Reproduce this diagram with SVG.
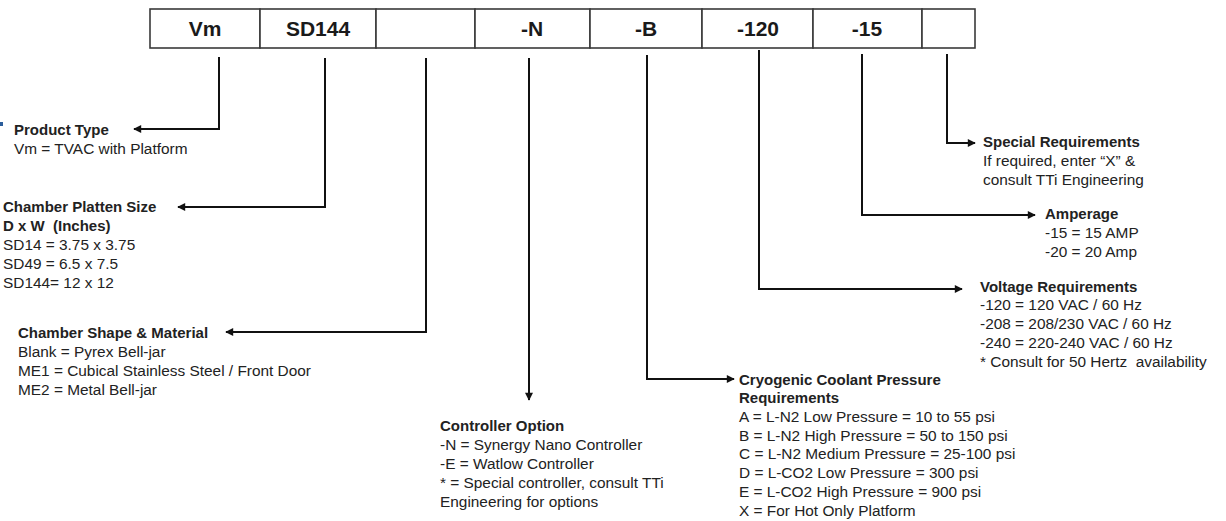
<svg xmlns="http://www.w3.org/2000/svg" width="1226" height="521" viewBox="0 0 1226 521">
<style>
.cell{fill:#fff;stroke:#3a3a3a;stroke-width:1.6}
.code{font-family:"Liberation Sans",Arial,sans-serif;font-weight:bold;font-size:21px;fill:#1a1a1a;text-anchor:middle}
.t{font-family:"Liberation Sans",Arial,sans-serif;font-size:15.4px;fill:#222}
.b{font-weight:bold;font-size:15px}
.wire{fill:none;stroke:#111;stroke-width:2}
</style>
<defs>
<marker id="ah" viewBox="0 0 10 10" refX="9" refY="5" markerWidth="4.5" markerHeight="4" orient="auto" markerUnits="strokeWidth">
<path d="M0,0 L10,5 L0,10 z" fill="#111"/>
</marker>
</defs>
<rect width="1226" height="521" fill="#fff"/>
<rect x="0" y="122" width="3" height="4" fill="#2b5d9b"/>
<g id="codebar">
<rect class="cell" x="150" y="9" width="110" height="39"/>
<rect class="cell" x="260" y="9" width="116" height="39"/>
<rect class="cell" x="376" y="9" width="99" height="39"/>
<rect class="cell" x="475" y="9" width="115" height="39"/>
<rect class="cell" x="590" y="9" width="112" height="39"/>
<rect class="cell" x="702" y="9" width="111" height="39"/>
<rect class="cell" x="813" y="9" width="109" height="39"/>
<rect class="cell" x="922" y="9" width="53" height="39"/>
<text class="code" x="205" y="36">Vm</text>
<text class="code" x="318" y="36">SD144</text>
<text class="code" x="532" y="36">-N</text>
<text class="code" x="646" y="36">-B</text>
<text class="code" x="758" y="36">-120</text>
<text class="code" x="867" y="36">-15</text>
</g>
<g id="connectors">
<path class="wire" d="M219,57 V129 H134" marker-end="url(#ah)"/>
<path class="wire" d="M325,58 V207 H178" marker-end="url(#ah)"/>
<path class="wire" d="M426,58 V332 H226" marker-end="url(#ah)"/>
<path class="wire" d="M529,58 V400" marker-end="url(#ah)"/>
<path class="wire" d="M647,55 V379 H734" marker-end="url(#ah)"/>
<path class="wire" d="M759,50 V289 H962" marker-end="url(#ah)"/>
<path class="wire" d="M862,54 V215 H1035" marker-end="url(#ah)"/>
<path class="wire" d="M947,54 V143 H975" marker-end="url(#ah)"/>
</g>
<g id="product-type">
<text class="t b" x="14" y="135">Product Type</text>
<text class="t" x="14" y="154">Vm = TVAC with Platform</text>
</g>
<g id="platten-size">
<text class="t b" x="3" y="212">Chamber Platten Size</text>
<text class="t b" x="3" y="231" xml:space="preserve">D x W  (Inches)</text>
<text class="t" x="3" y="250">SD14 = 3.75 x 3.75</text>
<text class="t" x="3" y="269">SD49 = 6.5 x 7.5</text>
<text class="t" x="3" y="288">SD144= 12 x 12</text>
</g>
<g id="chamber-shape">
<text class="t b" x="18" y="338">Chamber Shape &amp; Material</text>
<text class="t" x="18" y="357">Blank = Pyrex Bell-jar</text>
<text class="t" x="18" y="376">ME1 = Cubical Stainless Steel / Front Door</text>
<text class="t" x="18" y="395">ME2 = Metal Bell-jar</text>
</g>
<g id="controller">
<text class="t b" x="440" y="431">Controller Option</text>
<text class="t" x="440" y="450">-N = Synergy Nano Controller</text>
<text class="t" x="440" y="469">-E = Watlow Controller</text>
<text class="t" x="440" y="488">* = Special controller, consult TTi</text>
<text class="t" x="440" y="507">Engineering for options</text>
</g>
<g id="cryogenic">
<text class="t b" x="739" y="385">Cryogenic Coolant Pressure</text>
<text class="t b" x="739" y="403">Requirements</text>
<text class="t" x="739" y="422">A = L-N2 Low Pressure = 10 to 55 psi</text>
<text class="t" x="739" y="441">B = L-N2 High Pressure = 50 to 150 psi</text>
<text class="t" x="739" y="459">C = L-N2 Medium Pressure = 25-100 psi</text>
<text class="t" x="739" y="478">D = L-CO2 Low Pressure = 300 psi</text>
<text class="t" x="739" y="497">E = L-CO2 High Pressure = 900 psi</text>
<text class="t" x="739" y="516">X = For Hot Only Platform</text>
</g>
<g id="voltage">
<text class="t b" x="980" y="292">Voltage Requirements</text>
<text class="t" x="980" y="310">-120 = 120 VAC / 60 Hz</text>
<text class="t" x="980" y="329">-208 = 208/230 VAC / 60 Hz</text>
<text class="t" x="980" y="348">-240 = 220-240 VAC / 60 Hz</text>
<text class="t" x="980" y="367" xml:space="preserve">* Consult for 50 Hertz  availability</text>
</g>
<g id="amperage">
<text class="t b" x="1045" y="219">Amperage</text>
<text class="t" x="1045" y="238">-15 = 15 AMP</text>
<text class="t" x="1045" y="257">-20 = 20 Amp</text>
</g>
<g id="special">
<text class="t b" x="983" y="147">Special Requirements</text>
<text class="t" x="983" y="166">If required, enter “X” &amp;</text>
<text class="t" x="983" y="185">consult TTi Engineering</text>
</g>
</svg>
